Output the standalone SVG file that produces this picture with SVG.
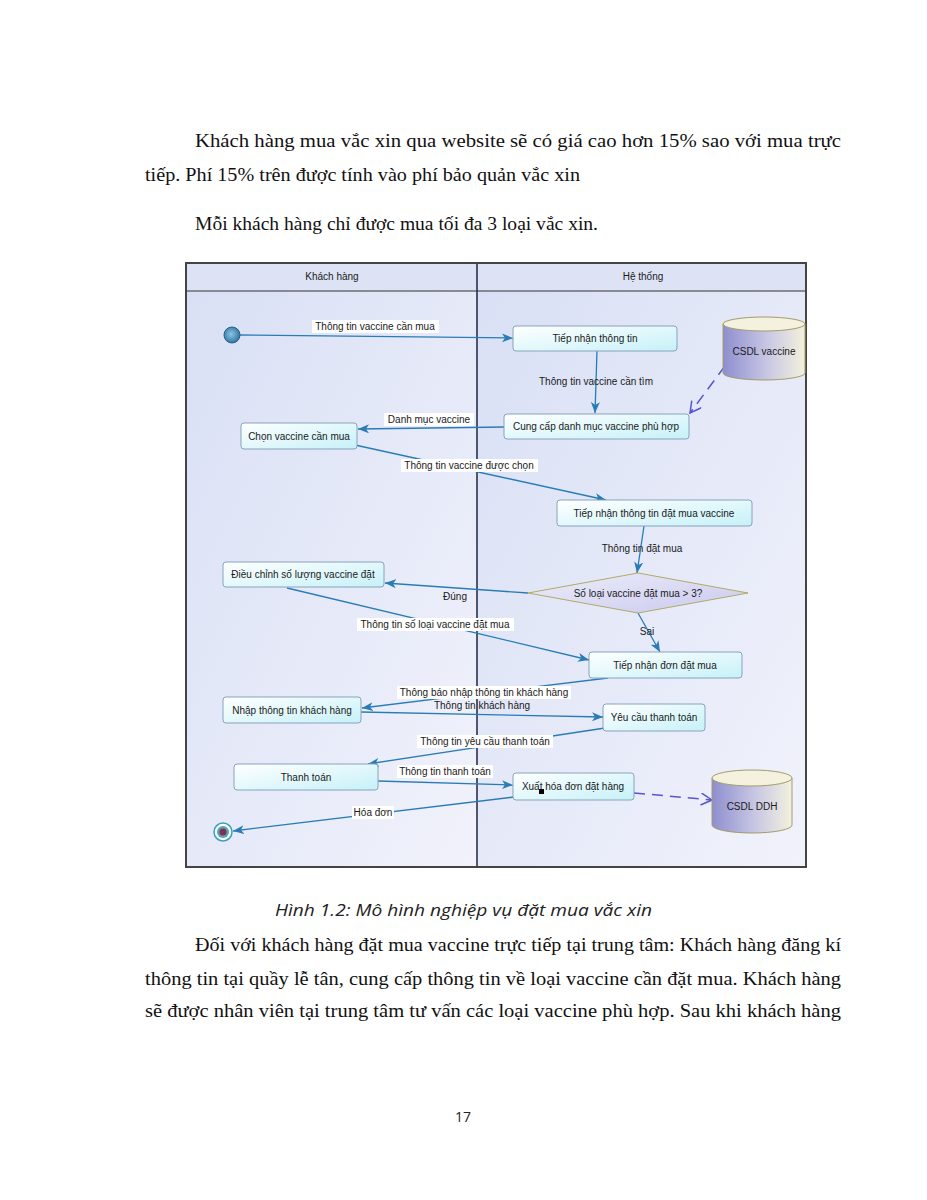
<svg xmlns="http://www.w3.org/2000/svg" width="927" height="1200" viewBox="0 0 927 1200">
<defs>
<style>
.page{font-family:"Liberation Serif","Times New Roman",serif;font-size:19.5px;fill:#111}
.cap{font-family:"Open Sans","Liberation Sans",sans-serif;font-style:italic;font-size:16px;fill:#222}
.t{font-family:"Liberation Sans",Arial,sans-serif;font-size:10px;fill:#1a1a1a;text-anchor:middle}
.node{fill:url(#nodeG);stroke:#87a3bd;stroke-width:1}
.c{fill:none;stroke:#2a7cb6;stroke-width:1.3;marker-end:url(#ah)}
.d{fill:none;stroke:#5656cc;stroke-width:1.5;stroke-dasharray:11 7;marker-end:url(#oh)}
.lb{fill:#ffffff}
</style>
<linearGradient id="nodeG" x1="0" y1="0" x2="1" y2="1">
<stop offset="0" stop-color="#ffffff"/>
<stop offset="1" stop-color="#c6f1f8"/>
</linearGradient>
<linearGradient id="laneG" x1="0" y1="0" x2="1" y2="1">
<stop offset="0" stop-color="#d9e0f5"/>
<stop offset="1" stop-color="#f1f2fb"/>
</linearGradient>
<linearGradient id="cylG" x1="0" y1="0" x2="1" y2="0">
<stop offset="0" stop-color="#8e8ecf"/>
<stop offset="0.55" stop-color="#c9c8e4"/>
<stop offset="1" stop-color="#f3f1dc"/>
</linearGradient>
<linearGradient id="diaG" x1="0" y1="0" x2="1" y2="1">
<stop offset="0" stop-color="#eeeefa"/>
<stop offset="1" stop-color="#c8c8ee"/>
</linearGradient>
<radialGradient id="startG" cx="0.45" cy="0.45" r="0.6">
<stop offset="0" stop-color="#8cc6e2"/>
<stop offset="1" stop-color="#2b6f9c"/>
</radialGradient>
<marker id="ah" markerUnits="userSpaceOnUse" markerWidth="12" markerHeight="10" refX="11" refY="4.5" orient="auto">
<path d="M0,0 L11,4.5 L0,9 L3,4.5 z" fill="#2a7cb6"/>
</marker>
<marker id="oh" markerUnits="userSpaceOnUse" markerWidth="14" markerHeight="14" refX="12" refY="6" orient="auto">
<path d="M1,0 L12,6 L1,12" fill="none" stroke="#5656cc" stroke-width="1.5"/>
</marker>
</defs>
<rect width="927" height="1200" fill="#ffffff"/>

<g id="page-text-top">
<text class="page" x="195" y="147" textLength="646" lengthAdjust="spacingAndGlyphs">Khách hàng mua vắc xin qua website sẽ có giá cao hơn 15% sao với mua trực</text>
<text class="page" x="145" y="181" textLength="435" lengthAdjust="spacingAndGlyphs">tiếp. Phí 15% trên được tính vào phí bảo quản vắc xin</text>
<text class="page" x="195" y="230" textLength="403" lengthAdjust="spacingAndGlyphs">Mỗi khách hàng chỉ được mua tối đa 3 loại vắc xin.</text>
</g>

<g id="frame">
<rect x="186" y="291" width="291" height="576" fill="url(#laneG)"/>
<rect x="477" y="291" width="329" height="576" fill="url(#laneG)"/>
<rect x="186" y="263" width="620" height="28" fill="#dde3f5"/>
<line x1="186" y1="291" x2="806" y2="291" stroke="#333" stroke-width="1.2"/>
<line x1="477" y1="263" x2="477" y2="867" stroke="#1e2440" stroke-width="1.5"/>
<rect x="186" y="263" width="620" height="604" fill="none" stroke="#444" stroke-width="2"/>
<text class="t" x="332" y="280">Khách hàng</text>
<text class="t" x="643" y="280">Hệ thống</text>
</g>

<g id="connectors">
<path class="c" d="M240,335 L513,338"/>
<path class="c" d="M597,351 L595,413"/>
<path class="d" d="M725,366 L690,413"/>
<path class="c" d="M504,427 L358,429"/>
<path class="c" d="M355,445 L606,500"/>
<path class="c" d="M644,526 L637,573"/>
<path class="c" d="M528,593 L385,583"/>
<path class="c" d="M287,588 L589,660"/>
<path class="c" d="M638,613 L660,652"/>
<path class="c" d="M608,678 L362,708"/>
<path class="c" d="M361,712 L603,717"/>
<path class="c" d="M605,728 L368,764"/>
<path class="c" d="M378,781 L513,785"/>
<path class="d" d="M634,793 L712,800"/>
<path class="c" d="M514,797 L233,831"/>
<rect class="lb" x="312" y="320" width="127" height="13"/>
<text class="t" x="375" y="330">Thông tin vaccine cần mua</text>
<text class="t" x="596" y="385">Thông tin vaccine cần tìm</text>
<rect class="lb" x="384" y="413" width="90" height="13"/>
<text class="t" x="429" y="423">Danh mục vaccine</text>
<rect class="lb" x="401" y="459" width="137" height="13"/>
<text class="t" x="469" y="469">Thông tin vaccine được chọn</text>
<text class="t" x="642" y="552">Thông tin đặt mua</text>
<text class="t" x="455" y="600">Đúng</text>
<rect class="lb" x="357" y="618" width="157" height="13"/>
<text class="t" x="435" y="628">Thông tin số loại vaccine đặt mua</text>
<text class="t" x="647" y="635">Sai</text>
<rect class="lb" x="397" y="686" width="174" height="13"/>
<text class="t" x="484" y="696">Thông báo nhập thông tin khách hàng</text>
<text class="t" x="482" y="709">Thông tin khách hàng</text>
<rect class="lb" x="417" y="735" width="136" height="13"/>
<text class="t" x="485" y="745">Thông tin yêu cầu thanh toán</text>
<rect class="lb" x="397" y="765" width="96" height="13"/>
<text class="t" x="445" y="775">Thông tin thanh toán</text>
<rect class="lb" x="352" y="806" width="42" height="13"/>
<text class="t" x="373" y="816">Hóa đơn</text>
</g>

<g id="start">
<circle cx="232" cy="335" r="8" fill="url(#startG)" stroke="#2a5f88" stroke-width="1"/>
</g>

<g id="n-tiep-nhan-thong-tin">
<rect class="node" x="513" y="326" width="164" height="25" rx="3"/>
<text class="t" x="595" y="342">Tiếp nhận thông tin</text>
</g>

<g id="db-csdl-vaccine">
<path d="M723,324 L723,373 A41,7 0 0 0 805,373 L805,324" fill="url(#cylG)" stroke="#a49c6a" stroke-width="1"/>
<ellipse cx="764" cy="324" rx="41" ry="7" fill="#f4f2de" stroke="#a49c6a" stroke-width="1"/>
<text class="t" x="764" y="355">CSDL vaccine</text>
</g>

<g id="n-cung-cap">
<rect class="node" x="504" y="414" width="185" height="25" rx="3"/>
<text class="t" x="596" y="430">Cung cấp danh mục vaccine phù hợp</text>
</g>

<g id="n-chon-vaccine">
<rect class="node" x="241" y="423" width="116" height="26" rx="3"/>
<text class="t" x="299" y="440">Chọn vaccine cần mua</text>
</g>

<g id="n-tiep-nhan-dat-mua">
<rect class="node" x="557" y="500" width="195" height="26" rx="3"/>
<text class="t" x="654" y="517">Tiếp nhận thông tin đặt mua vaccine</text>
</g>

<g id="decision">
<polygon points="528,593 638,573 748,593 638,613" fill="url(#diaG)" stroke="#b2aa68" stroke-width="1"/>
<text class="t" x="638" y="597">Số loại vaccine đặt mua &gt; 3?</text>
</g>

<g id="n-dieu-chinh">
<rect class="node" x="223" y="562" width="161" height="25" rx="3"/>
<text class="t" x="303" y="578">Điều chỉnh số lượng vaccine đặt</text>
</g>

<g id="n-tiep-nhan-don">
<rect class="node" x="589" y="652" width="153" height="26" rx="3"/>
<text class="t" x="665" y="669">Tiếp nhận đơn đặt mua</text>
</g>

<g id="n-nhap-thong-tin">
<rect class="node" x="223" y="697" width="138" height="26" rx="3"/>
<text class="t" x="292" y="714">Nhập thông tin khách hàng</text>
</g>

<g id="n-yeu-cau">
<rect class="node" x="603" y="704" width="102" height="27" rx="3"/>
<text class="t" x="654" y="721">Yêu cầu thanh toán</text>
</g>

<g id="n-thanh-toan">
<rect class="node" x="234" y="764" width="144" height="26" rx="3"/>
<text class="t" x="306" y="781">Thanh toán</text>
</g>

<g id="n-xuat-hoa-don">
<rect class="node" x="513" y="773" width="121" height="27" rx="3"/>
<text class="t" x="573" y="790">Xuất hóa đơn đặt hàng</text>
<rect x="539" y="789" width="5" height="5" fill="#000"/>
</g>

<g id="db-csdl-ddh">
<path d="M712,778 L712,825 A40,8 0 0 0 792,825 L792,778" fill="url(#cylG)" stroke="#a49c6a" stroke-width="1"/>
<ellipse cx="752" cy="778" rx="40" ry="8" fill="#f4f2de" stroke="#a49c6a" stroke-width="1"/>
<text class="t" x="752" y="810">CSDL DDH</text>
</g>

<g id="end">
<circle cx="223" cy="832" r="9" fill="#ffffff" stroke="#3d9fb3" stroke-width="1.5"/>
<circle cx="223" cy="832" r="6" fill="#4aa6b8"/>
<circle cx="223" cy="832" r="3.5" fill="#8a2c52"/>
</g>

<g id="page-text-bottom">
<text class="cap" x="275" y="916" textLength="377" lengthAdjust="spacingAndGlyphs">Hình 1.2: Mô hình nghiệp vụ đặt mua vắc xin</text>
<text class="page" x="195" y="951" textLength="646" lengthAdjust="spacingAndGlyphs">Đối với khách hàng đặt mua vaccine trực tiếp tại trung tâm: Khách hàng đăng kí</text>
<text class="page" x="145" y="985" textLength="696" lengthAdjust="spacingAndGlyphs">thông tin tại quầy lễ tân, cung cấp thông tin về loại vaccine cần đặt mua. Khách hàng</text>
<text class="page" x="145" y="1017" textLength="696" lengthAdjust="spacingAndGlyphs">sẽ được nhân viên tại trung tâm tư vấn các loại vaccine phù hợp. Sau khi khách hàng</text>
<text x="463" y="1122" font-family="'Open Sans','Liberation Sans',sans-serif" font-size="14" fill="#222" text-anchor="middle">17</text>
</g>
</svg>
